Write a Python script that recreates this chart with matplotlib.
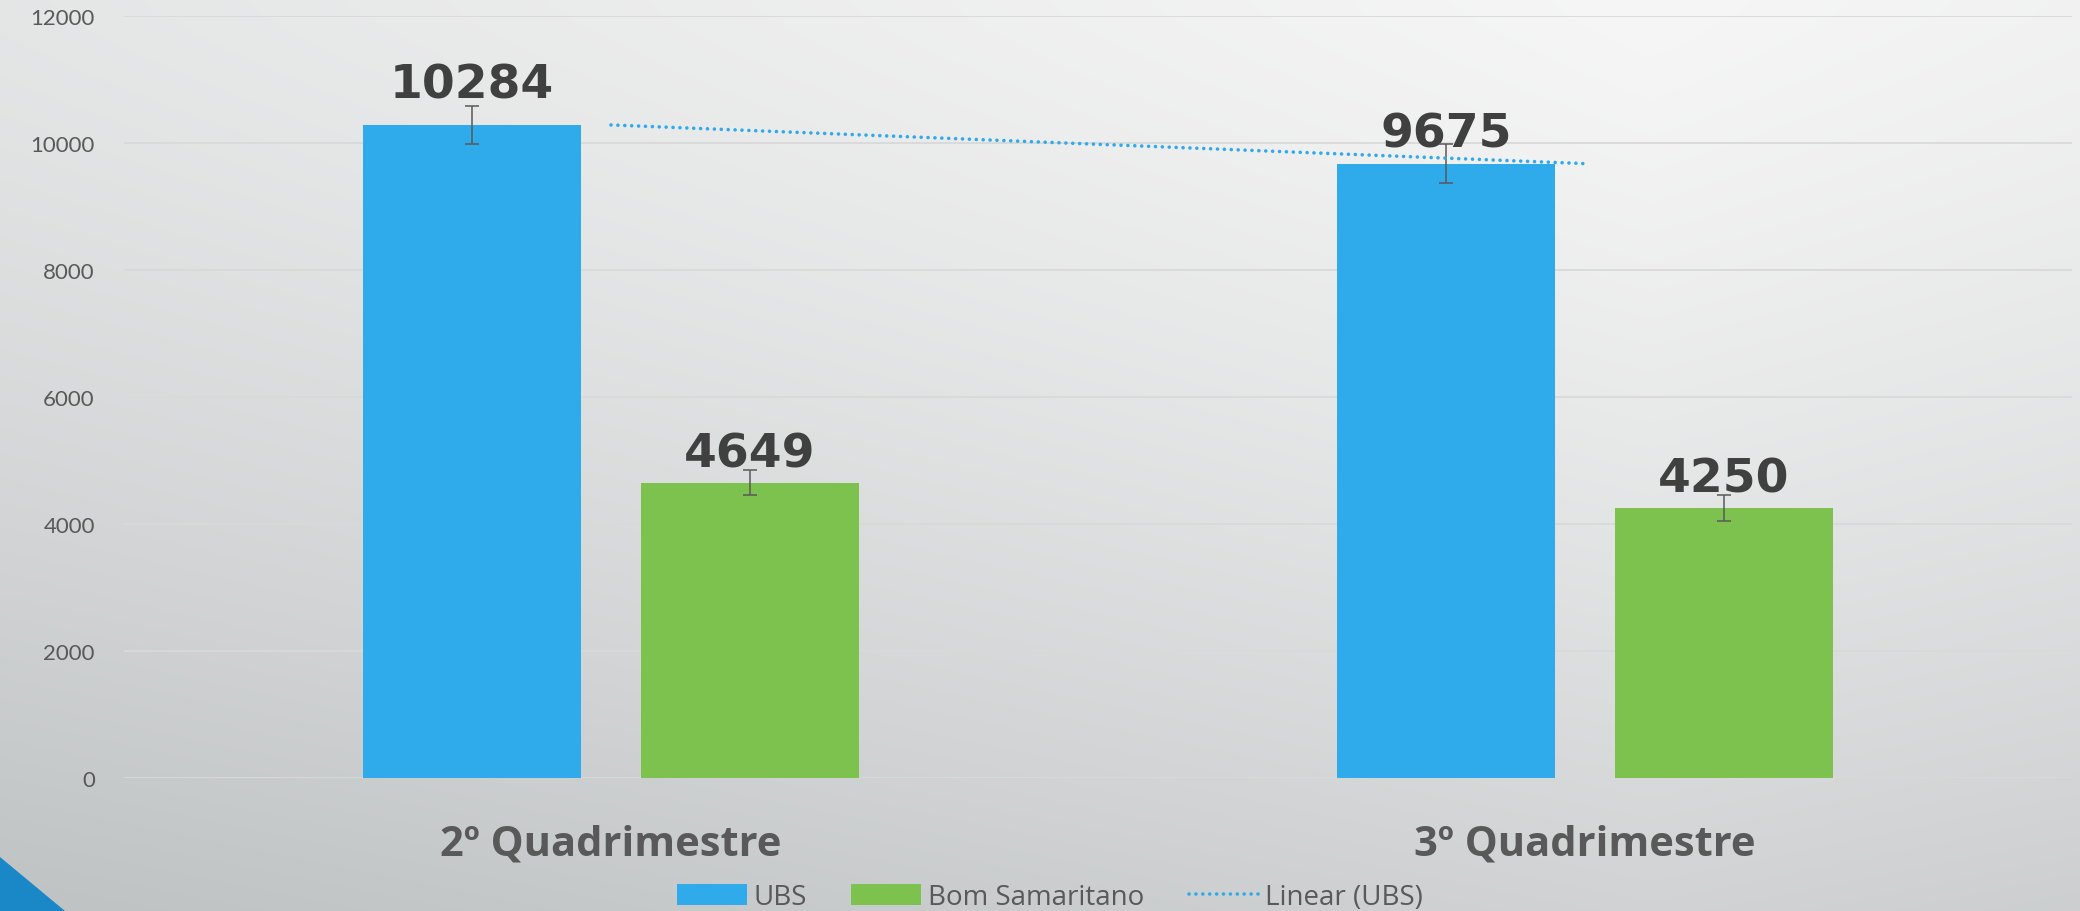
import numpy as np
import matplotlib.pyplot as plt
from matplotlib.patches import Polygon

# data
categories = ['2º Quadrimestre', '3º Quadrimestre']
ubs = [10284, 9675]
bom_samaritano = [4649, 4250]
y_ticks = [0, 2000, 4000, 6000, 8000, 10000, 12000]

BLUE = '#2FAAEA'
GREEN = '#7DC24F'
TXT = '#595959'


def std_err(vals):
    # Excel style "standard error" error bars
    v = np.array(vals, dtype=float)
    return np.std(v, ddof=1) / np.sqrt(len(v))


fig = plt.figure(figsize=(20.8, 9.12), dpi=100)

# background gradient (light upper right, darker towards the bottom)
bg = fig.add_axes([0, 0, 1, 1], zorder=-10)
h, w = 912, 2080
yy, xx = np.mgrid[0:h, 0:w]
t = 0.35 * np.abs(xx - 1650) / 1650 + 0.75 * (yy / h) ** 1.3
t = np.clip(t, 0, 1.1)[..., None]
light = np.array([246, 246, 246]) / 255
dark = np.array([196, 199, 200]) / 255
img = np.clip(light + (dark - light) * t, 0, 1)
bg.imshow(img, aspect='auto', interpolation='bilinear')
bg.axis('off')

# corner decoration
fig.patches.append(Polygon([(0, 1 - 858 / 912), (0, 0), (65 / 2080, 0)],
                           closed=True, transform=fig.transFigure,
                           facecolor='#1A87C7', edgecolor='none'))

ax = fig.add_axes([124 / 2080, 1 - 779 / 912, 1948 / 2080, 762 / 912])
ax.set_facecolor('none')

x = np.arange(len(categories))
bw = 0.224
off = 0.1425

ax.bar(x - off, ubs, bw, color=BLUE, label='UBS', zorder=3,
       yerr=std_err(ubs), ecolor=TXT, capsize=4.7,
       error_kw=dict(elinewidth=1.1, capthick=1.1))
ax.bar(x + off, bom_samaritano, bw, color=GREEN, label='Bom Samaritano', zorder=3,
       yerr=std_err(bom_samaritano), ecolor=TXT, capsize=4.7,
       error_kw=dict(elinewidth=1.1, capthick=1.1))

# linear trendline for UBS
fit = np.polyfit(x, ubs, 1)
ax.plot(x, np.polyval(fit, x), color=BLUE, lw=2.6, linestyle=(0, (0.01, 1.9)),
        dash_capstyle='round', label='Linear (UBS)', zorder=4)

# value labels
lab_font = dict(family=['DejaVu Sans'], fontsize=34,
                fontweight='bold', color='#404040', ha='center', va='baseline')
ubs_dy = [20, 12]
bs_dy = [12, 12]
for i in range(len(categories)):
    ax.annotate(str(ubs[i]), (x[i] - off, ubs[i]), xytext=(0, ubs_dy[i]),
                textcoords='offset points', **lab_font)
    ax.annotate(str(bom_samaritano[i]), (x[i] + off, bom_samaritano[i]),
                xytext=(0, bs_dy[i]), textcoords='offset points', **lab_font)

ax.set_xlim(-0.5, 1.5)
ax.set_ylim(0, 12000)
ax.set_yticks(y_ticks)
ax.set_yticklabels([str(v) for v in y_ticks], family=['Lato', 'DejaVu Sans'],
                   fontsize=16, color=TXT)
ax.set_xticks(x)
ax.set_xticklabels(categories, family=['Open Sans', 'DejaVu Sans'],
                   fontsize=30, fontweight='bold', color=TXT)
ax.tick_params(axis='y', length=0, pad=21)
ax.tick_params(axis='x', length=0, pad=33)
for s in ax.spines.values():
    s.set_visible(False)
ax.yaxis.grid(True, color='#D9D9D9', lw=1.3, zorder=0)
ax.set_axisbelow(True)

handles, labels = ax.get_legend_handles_labels()
order = [1, 2, 0]
leg = ax.legend([handles[i] for i in order], [labels[i] for i in order],
                loc='center', bbox_to_anchor=(1050 / 2080, 1 - 898 / 912),
                bbox_transform=fig.transFigure, ncol=3, frameon=False,
                prop=dict(family=['Open Sans', 'DejaVu Sans'], size=20),
                handlelength=2.5, handleheight=0.8, handletextpad=0.25,
                columnspacing=1.6, labelcolor=TXT)

fig.savefig('out.png', dpi=100)
